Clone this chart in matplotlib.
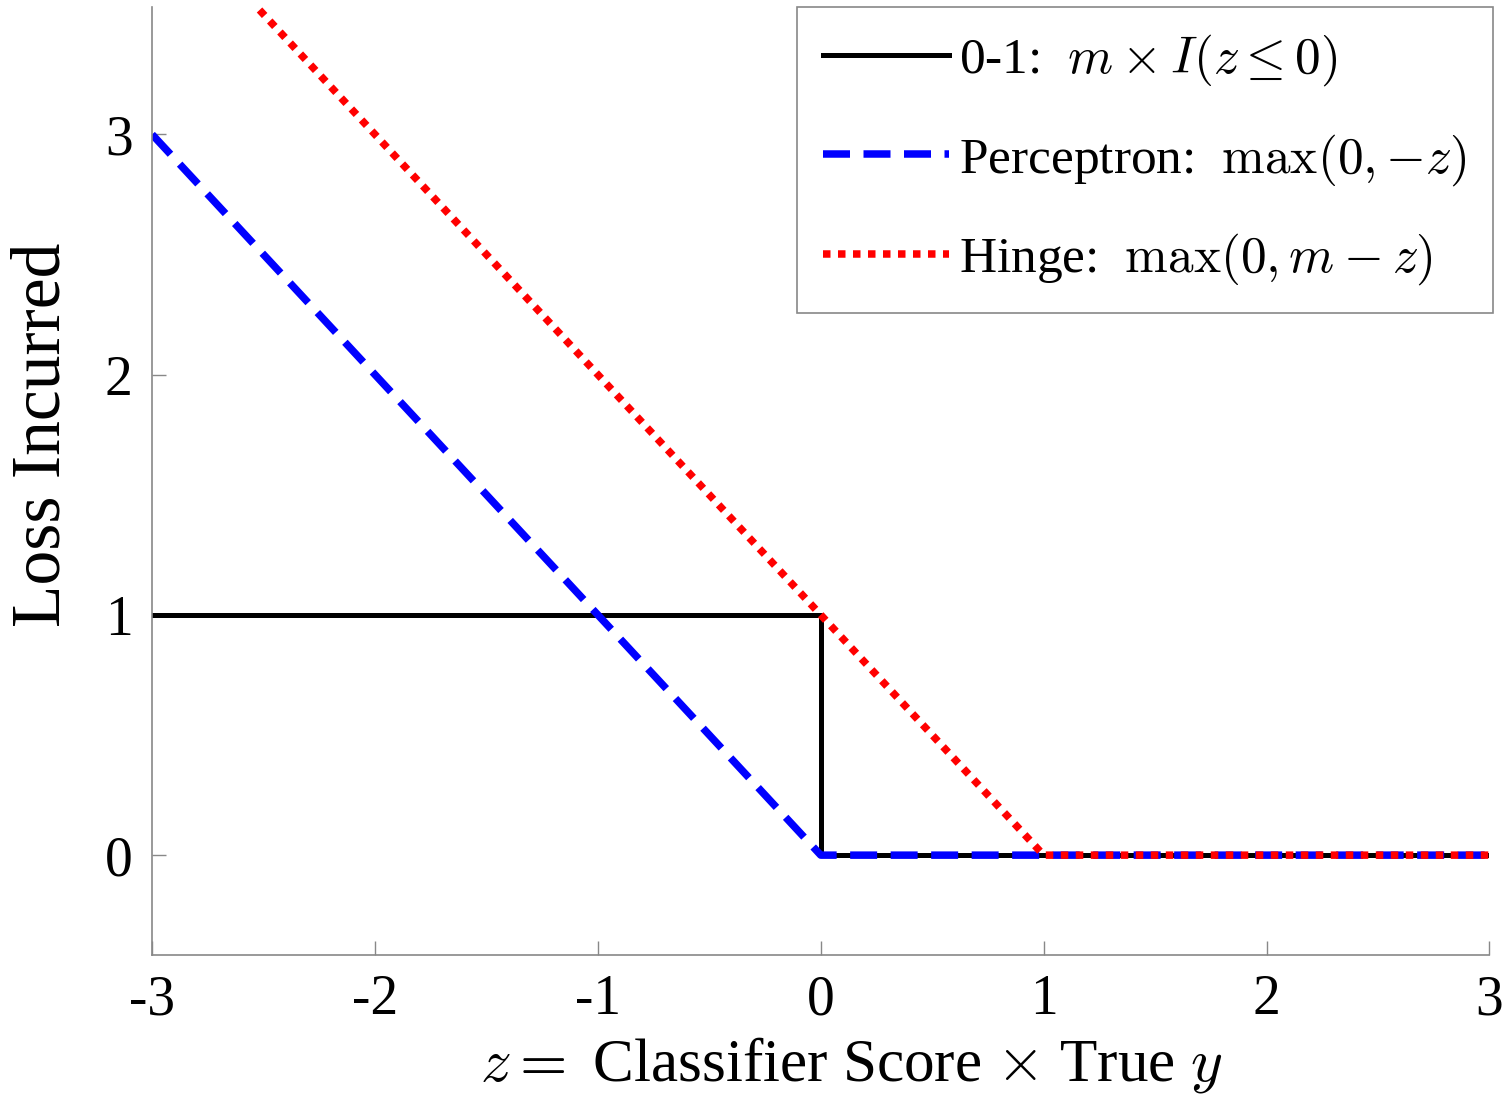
import numpy as np
import matplotlib
matplotlib.use('Agg')
import matplotlib.pyplot as plt

plt.rcParams['font.family'] = 'serif'
plt.rcParams['font.serif'] = ['Liberation Serif', 'DejaVu Serif']
plt.rcParams['mathtext.fontset'] = 'cm'
plt.rcParams['axes.unicode_minus'] = False

# loss curves, corner points
zero_one_x = [-3, 0, 0, 3]
zero_one_y = [1, 1, 0, 0]
perceptron_x = [-3, 0, 3]
perceptron_y = [3, 0, 0]
hinge_x = [-3, 1, 3]
hinge_y = [4, 0, 0]

xticks = [-3, -2, -1, 0, 1, 2, 3]
yticks = [0, 1, 2, 3]

fig = plt.figure(figsize=(15.06, 10.95), dpi=100)
ax = fig.add_axes([0.101, 0.128, 0.888, 0.8655])

ax.plot(zero_one_x, zero_one_y, color='black', lw=3.6,
        label=r'0-1:  $m \times I(z \leq 0)$')
ax.plot(perceptron_x, perceptron_y, color='blue', lw=5.4,
        linestyle=(0, (3.6, 1.8)), dash_capstyle='butt',
        label=r'Perceptron:  $\max(0,{-}z)$')
ax.plot(hinge_x, hinge_y, color='red', lw=5.4,
        linestyle=(0, (1, 1)), dash_capstyle='butt',
        label=r'Hinge:  $\max(0, m-z)$')

ax.set_xlim(-3, 3)
ax.set_ylim(-0.415, 3.53)
ax.set_xticks(xticks)
ax.set_yticks(yticks)
ax.spines['top'].set_visible(False)
ax.spines['right'].set_visible(False)
for s in ['left', 'bottom']:
    ax.spines[s].set_color('#888888')
    ax.spines[s].set_linewidth(1.2)
ax.tick_params(direction='in', length=10, width=1.0, color='#888888',
               labelsize=40, pad=14)

ax.set_xlabel(r'$z =$ Classifier Score $\times$ True $y$', fontsize=44,
              va='center', ha='center')
ax.set_ylabel('Loss Incurred', fontsize=50, va='center', ha='center')
ax.xaxis.set_label_coords(0.523, -0.116)
ax.yaxis.set_label_coords(-0.082, 0.549)

leg = ax.legend(loc='upper right', bbox_to_anchor=(1.0025, 1.0),
                fontsize=37, handlelength=2.45, handletextpad=0.2,
                labelspacing=0.85, borderpad=0.5, borderaxespad=0,
                fancybox=False, framealpha=1)
leg.get_frame().set_edgecolor('#888888')
leg.get_frame().set_linewidth(1.2)

fig.savefig('out.png', dpi=100)
